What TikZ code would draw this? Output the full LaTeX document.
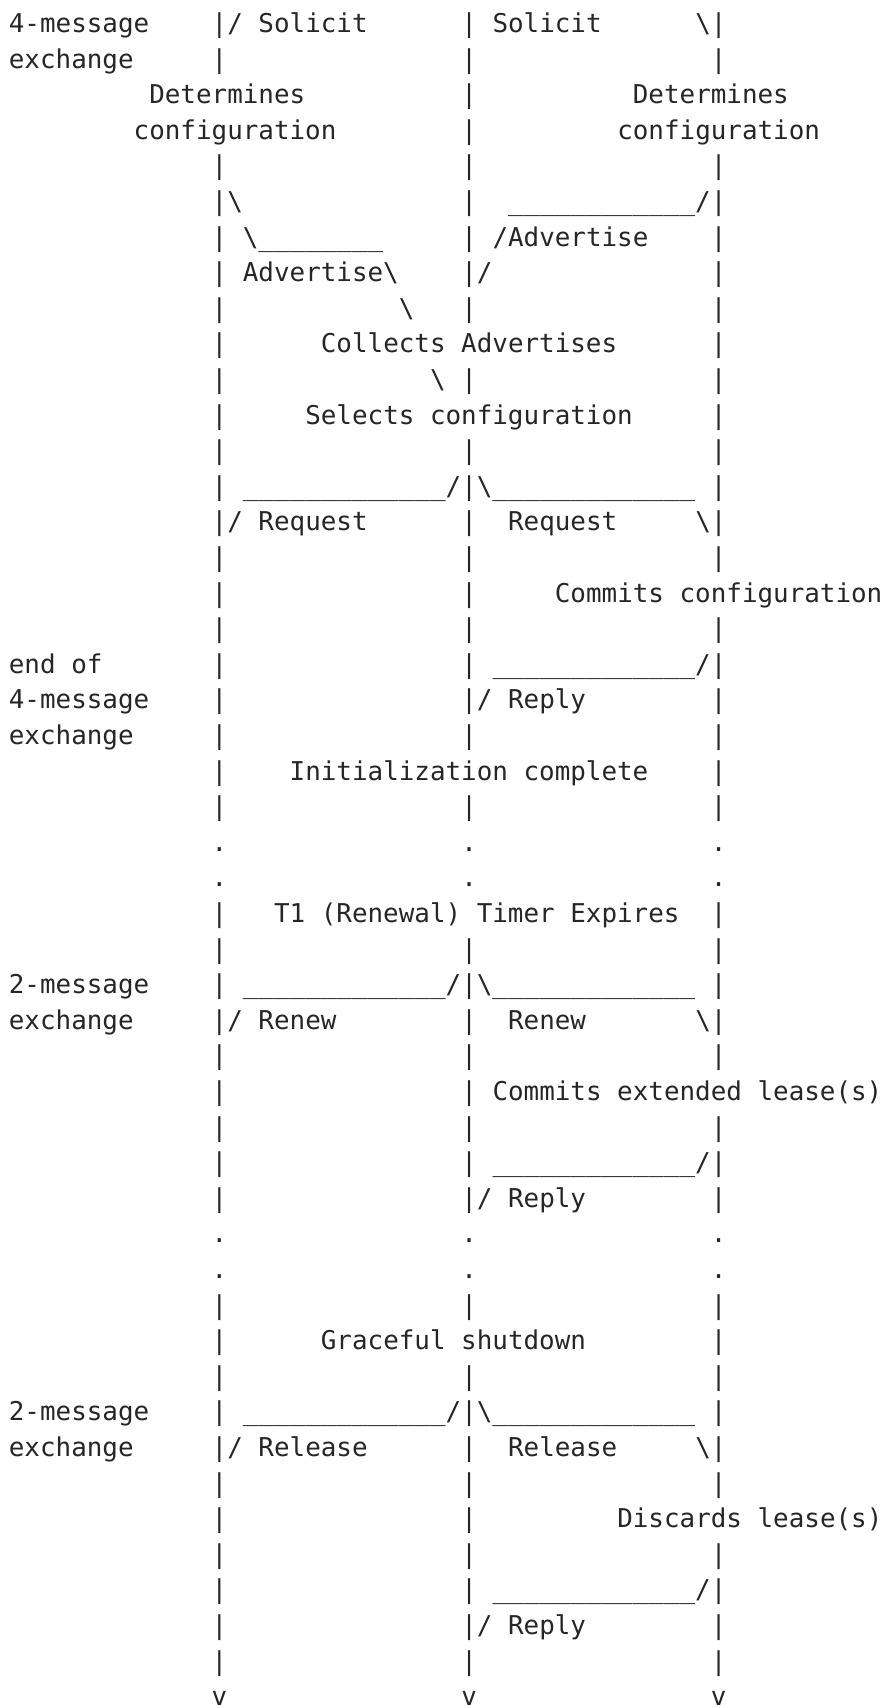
\documentclass[tikz,border=0pt]{standalone}
\usepackage{fontspec}
\usetikzlibrary{positioning}
\newfontfamily\asciifont{DejaVu Sans Mono}
\definecolor{AsciiInk}{HTML}{262626}
\definecolor{AsciiPaper}{HTML}{FFFFFF}
\tikzset{
  every node/.style={font={\asciifont\fontsize{25.9}{30}\selectfont}, text=AsciiInk},
  glyph/.style={anchor=base west, inner sep=0pt, outer sep=0pt},
}
\frenchspacing
\begin{document}
\begin{tikzpicture}[x=15.6pt,y=-35.6pt]
  \fill[AsciiPaper] (0pt,0pt) rectangle (883pt,-1708pt);
  \useasboundingbox (0pt,0pt) rectangle (883pt,-1708pt);
  % columns: server 13, client 29, server 45; one row per text line
  \begin{scope}[shift={(8.9pt,-32.5pt)}]
  % lifelines
  \foreach \a/\b in {0/1,4/22,25/33,36/46}
    \foreach \r in {\a,...,\b}
      \node[glyph] (srvA-\r) at (13,\r) {|};
  \foreach \a/\b in {0/8,10/10,12/20,22/22,26/33,36/36,38/46}
    \foreach \r in {\a,...,\b}
      \node[glyph] (cli-\r) at (29,\r) {|};
  \foreach \a/\b in {0/1,4/15,17/22,25/29,31/33,36/41,43/46}
    \foreach \r in {\a,...,\b}
      \node[glyph] (srvB-\r) at (45,\r) {|};
  \foreach \r in {23,24,34,35}
    \foreach \c in {13,29,45}
      \node[glyph] (dot-\c-\r) at (\c,\r) {.};
  \foreach \c in {13,29,45}
    \node[glyph] (end-\c) at (\c,47) {v};

  % 4-message exchange
  \node[glyph] (fourA) at (0,0) {4-message};
  \node[glyph] (exA) at (0,1) {exchange};
  \node[glyph] (solA) at (14,0) {/ Solicit};
  \node[glyph] (solB) at (31,0) {Solicit};
  \node[glyph] (solBtip) at (44,0) {\textbackslash};
  \node[glyph] (detA) at (9,2) {Determines};
  \node[glyph] (detB) at (40,2) {Determines};
  \node[glyph] (cfgA) at (8,3) {configuration};
  \node[glyph] (cfgB) at (39,3) {configuration};
  \node[glyph] (advAtop) at (14,5) {\textbackslash};
  \node[glyph] (advBtop) at (32,5) {\_\_\_\_\_\_\_\_\_\_\_\_/};
  \node[glyph] (advAmid) at (15,6) {\textbackslash\_\_\_\_\_\_\_\_};
  \node[glyph] (advB) at (31,6) {/Advertise};
  \node[glyph] (advA) at (15,7) {Advertise\textbackslash};
  \node[glyph] (advBtip) at (30,7) {/};
  \node[glyph] (advAlow) at (25,8) {\textbackslash};
  \node[glyph] (collect) at (20,9) {Collects Advertises};
  \node[glyph] (advAtip) at (27,10) {\textbackslash};
  \node[glyph] (select) at (19,11) {Selects configuration};
  \node[glyph] (reqAtop) at (15,13) {\_\_\_\_\_\_\_\_\_\_\_\_\_/};
  \node[glyph] (reqBtop) at (30,13) {\textbackslash\_\_\_\_\_\_\_\_\_\_\_\_\_};
  \node[glyph] (reqA) at (14,14) {/ Request};
  \node[glyph] (reqB) at (32,14) {Request};
  \node[glyph] (reqBtip) at (44,14) {\textbackslash};
  \node[glyph] (commit) at (35,16) {Commits configuration};
  \node[glyph] (endof) at (0,18) {end of};
  \node[glyph] (fourB) at (0,19) {4-message};
  \node[glyph] (exB) at (0,20) {exchange};
  \node[glyph] (repAtop) at (31,18) {\_\_\_\_\_\_\_\_\_\_\_\_\_/};
  \node[glyph] (repA) at (30,19) {/ Reply};
  \node[glyph] (init) at (18,21) {Initialization complete};

  % renewal
  \node[glyph] (timer) at (17,25) {T1 (Renewal) Timer Expires};
  \node[glyph] (twoA) at (0,27) {2-message};
  \node[glyph] (exC) at (0,28) {exchange};
  \node[glyph] (renAtop) at (15,27) {\_\_\_\_\_\_\_\_\_\_\_\_\_/};
  \node[glyph] (renBtop) at (30,27) {\textbackslash\_\_\_\_\_\_\_\_\_\_\_\_\_};
  \node[glyph] (renA) at (14,28) {/ Renew};
  \node[glyph] (renB) at (32,28) {Renew};
  \node[glyph] (renBtip) at (44,28) {\textbackslash};
  \node[glyph] (extend) at (31,30) {Commits extended lease(s)};
  \node[glyph] (repBtop) at (31,32) {\_\_\_\_\_\_\_\_\_\_\_\_\_/};
  \node[glyph] (repB) at (30,33) {/ Reply};

  % release
  \node[glyph] (shut) at (20,37) {Graceful shutdown};
  \node[glyph] (twoB) at (0,39) {2-message};
  \node[glyph] (exD) at (0,40) {exchange};
  \node[glyph] (relAtop) at (15,39) {\_\_\_\_\_\_\_\_\_\_\_\_\_/};
  \node[glyph] (relBtop) at (30,39) {\textbackslash\_\_\_\_\_\_\_\_\_\_\_\_\_};
  \node[glyph] (relA) at (14,40) {/ Release};
  \node[glyph] (relB) at (32,40) {Release};
  \node[glyph] (relBtip) at (44,40) {\textbackslash};
  \node[glyph] (discard) at (39,42) {Discards lease(s)};
  \node[glyph] (repCtop) at (31,44) {\_\_\_\_\_\_\_\_\_\_\_\_\_/};
  \node[glyph] (repC) at (30,45) {/ Reply};
  \end{scope}
\end{tikzpicture}
\end{document}
